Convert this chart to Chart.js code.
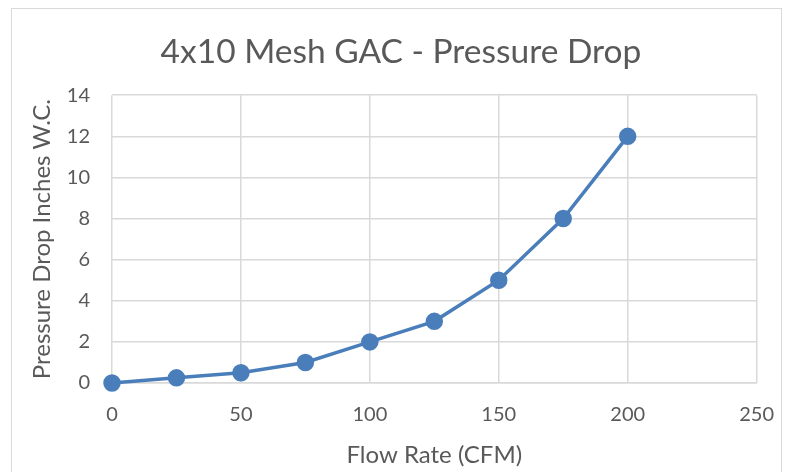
<!DOCTYPE html>
<html>
<head>
<meta charset="utf-8">
<script src="https://cdn.jsdelivr.net/npm/chart.js@4"></script>
<style>
  html, body { margin: 0; padding: 0; background: #fff; }
  #wrap { position: relative; width: 794px; height: 472px; overflow: hidden; }
  #frame { position: absolute; left: 11px; top: 8px; width: 769px; height: 480px; border: 1px solid #d9d9d9; }
  #chart { position: absolute; left: 0; top: 0; }
</style>
</head>
<body>
<div id="wrap">
  <div id="frame"></div>
  <canvas id="chart" width="794" height="472"></canvas>
</div>
<script>
const flowRate = [0, 25, 50, 75, 100, 125, 150, 175, 200];
const pressureDrop = [0, 0.25, 0.5, 1, 2, 3, 5, 8, 12];
const xTicks = [0, 50, 100, 150, 200, 250];
const yTicks = [0, 2, 4, 6, 8, 10, 12, 14];

const FONT = "Lato, 'Open Sans', Arial, sans-serif";
const TEXT = '#595959';
const GRID = '#d9d9d9';
const BLUE = '#4a7ebb';

new Chart(document.getElementById('chart'), {
  type: 'scatter',
  data: {
    datasets: [{
      data: flowRate.map((x, i) => ({ x, y: pressureDrop[i] })),
      showLine: true,
      clip: false,
      borderColor: BLUE,
      backgroundColor: BLUE,
      borderWidth: 3.5,
      pointRadius: 7,
      pointHoverRadius: 7,
      tension: 0
    }]
  },
  options: {
    responsive: false,
    animation: false,
    // left/right padding keeps the title centred on the frame, not the plot
    layout: { padding: { left: 45, right: 37, top: 0, bottom: 0 } },
    plugins: {
      legend: { display: false },
      tooltip: { enabled: false },
      title: {
        display: true,
        text: '4x10 Mesh GAC - Pressure Drop',
        color: TEXT,
        font: { family: FONT, size: 33.5, weight: 'normal' },
        padding: { top: 32, bottom: 23 }
      }
    },
    scales: {
      x: {
        type: 'linear',
        min: 0,
        max: 250,
        afterBuildTicks: axis => { axis.ticks = xTicks.map(v => ({ value: v })); },
        afterFit: axis => { axis.height = 89; },
        grid: { color: GRID, lineWidth: 1.5, drawTicks: false },
        border: { color: GRID, width: 1.5 },
        ticks: { color: TEXT, font: { family: FONT, size: 20 }, padding: 20 },
        title: {
          display: true,
          text: 'Flow Rate (CFM)',
          color: TEXT,
          font: { family: FONT, size: 24 },
          padding: { top: 0, bottom: 2 }
        }
      },
      y: {
        min: 0,
        max: 14,
        afterBuildTicks: axis => { axis.ticks = yTicks.map(v => ({ value: v })); },
        afterFit: axis => { axis.width = 67; },
        grid: { color: GRID, lineWidth: 1.5, drawTicks: false },
        border: { display: false },
        ticks: { color: TEXT, font: { family: FONT, size: 20 }, padding: 22 },
        title: {
          display: true,
          text: 'Pressure Drop Inches W.C.',
          color: TEXT,
          font: { family: FONT, size: 24 },
          padding: { top: -17.4, bottom: 0 }
        }
      }
    }
  }
});
</script>
</body>
</html>
